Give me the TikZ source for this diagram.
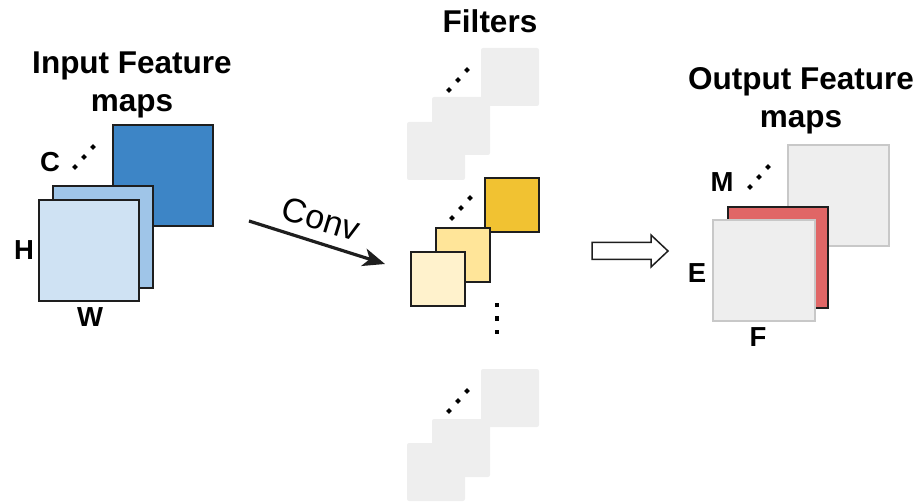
\documentclass[tikz,border=0pt]{standalone}
\usepackage{fontspec}
\setmainfont{Liberation Sans}
\usetikzlibrary{shapes.geometric,arrows.meta,calc}

\definecolor{blueDark}{HTML}{3D85C6}
\definecolor{blueMid}{HTML}{9FC5E8}
\definecolor{blueLight}{HTML}{CFE2F3}
\definecolor{yelDark}{HTML}{F1C232}
\definecolor{yelMid}{HTML}{FFE599}
\definecolor{yelLight}{HTML}{FFF2CC}
\definecolor{paleGray}{HTML}{EEEEEE}
\definecolor{edgeGray}{HTML}{C8C8C8}
\definecolor{mapRed}{HTML}{E06666}
\definecolor{ink}{HTML}{1E1E1E}

\tikzset{
  sheet/.style={rectangle, draw=ink, line width=1.8pt, inner sep=0pt, outer sep=0pt, anchor=north west},
  ghost/.style={rectangle, fill=paleGray, rounded corners=2pt, inner sep=0pt, outer sep=0pt, anchor=north west, minimum size=58pt},
  faint/.style={rectangle, draw=edgeGray, fill=paleGray, line width=1.6pt, inner sep=0pt, outer sep=0pt, anchor=north west},
  dot/.style={diamond, fill=black, inner sep=0pt, minimum size=6pt},
  sqdot/.style={rectangle, fill=black, inner sep=0pt, minimum size=4.2pt},
  title/.style={font=\fontsize{31.5}{38}\selectfont\bfseries, align=center, inner sep=0pt},
  dimlabel/.style={font=\fontsize{27.5}{30}\selectfont\bfseries, inner sep=0pt},
}

\begin{document}
\begin{tikzpicture}[x=1pt, y=-1pt]
\useasboundingbox (0,0) rectangle (920,502);

% ---- input feature maps ----
\node[title] (intitle) at (132,84.5) {Input Feature\\maps};
\node[sheet, fill=blueDark, minimum width=100pt, minimum height=101pt] (in3) at (113,125) {};
\node[sheet, fill=blueMid, minimum width=100pt, minimum height=102pt] (in2) at (53,186) {};
\node[sheet, fill=blueLight, minimum width=100pt, minimum height=101pt] (in1) at (39,200) {};
\node[dimlabel] (labC) at (50,162.5) {C};
\node[dimlabel] (labH) at (24,250) {H};
\node[dimlabel] (labW) at (90,317) {W};
\node[dot] (ic1) at (75,167) {};
\node[dot] (ic2) at (84,157) {};
\node[dot] (ic3) at (93,147) {};

% ---- convolution arrow ----
\coordinate (convA) at (249,221);
\coordinate (convB) at (385,264);
\draw[line width=3.2pt, ink, -{Stealth[length=22pt, width=18pt, inset=6pt]}] (convA) -- (convB);
\node[font=\fontsize{34}{38}\selectfont, rotate=-17, inner sep=0pt] (convtxt) at (321,219) {Conv};

% ---- filters ----
\node[title] (ftitle) at (490,21) {Filters};

% first filter (faded)
\node[ghost] (fa3) at (481,48) {};
\node[ghost] (fa2) at (432,97) {};
\node[ghost] (fa1) at (407,122) {};
\node[dot] (fad1) at (449,90) {};
\node[dot] (fad2) at (458,80) {};
\node[dot] (fad3) at (467,70) {};

% active filter
\node[sheet, fill=yelDark, minimum size=54pt] (fb3) at (485,178) {};
\node[sheet, fill=yelMid, minimum size=54pt] (fb2) at (436,228) {};
\node[sheet, fill=yelLight, minimum size=54pt] (fb1) at (411,252) {};
\node[dot] (fbd1) at (452,218) {};
\node[dot] (fbd2) at (461,208) {};
\node[dot] (fbd3) at (470,198) {};

% vertical ellipsis
\node[sqdot] (vd1) at (497,305) {};
\node[sqdot] (vd2) at (497,318.5) {};
\node[sqdot] (vd3) at (497,332) {};

% last filter (faded)
\node[ghost] (fc3) at (481,369) {};
\node[ghost] (fc2) at (432,419) {};
\node[ghost] (fc1) at (407,443) {};
\node[dot] (fcd1) at (449,411) {};
\node[dot] (fcd2) at (458,401) {};
\node[dot] (fcd3) at (467,391) {};

% ---- hollow arrow to the output ----
\coordinate (hA) at (592,251);
\coordinate (hB) at (668,251);
\draw[ink, fill=white, line width=1.5pt, line join=miter]
  ($(hA)+(0,-8.5)$) -- (651,242.5) -- (651,235) -- (hB) -- (651,267) -- (651,259.5) -- ($(hA)+(0,8.5)$) -- cycle;

% ---- output feature maps ----
\node[title] (outtitle) at (801,100.5) {Output Feature\\maps};
\node[faint, minimum width=101pt, minimum height=101pt] (out3) at (788,145) {};
\node[sheet, fill=mapRed, minimum width=100pt, minimum height=101pt] (out2) at (728,207) {};
\node[faint, minimum width=102pt, minimum height=101pt] (out1) at (713,220) {};
\node[dimlabel] (labM) at (722,182) {M};
\node[dimlabel] (labE) at (697,273) {E};
\node[dimlabel] (labF) at (758,337) {F};
\node[dot] (od1) at (750,187) {};
\node[dot] (od2) at (759,177) {};
\node[dot] (od3) at (768,167) {};
\end{tikzpicture}
\end{document}
